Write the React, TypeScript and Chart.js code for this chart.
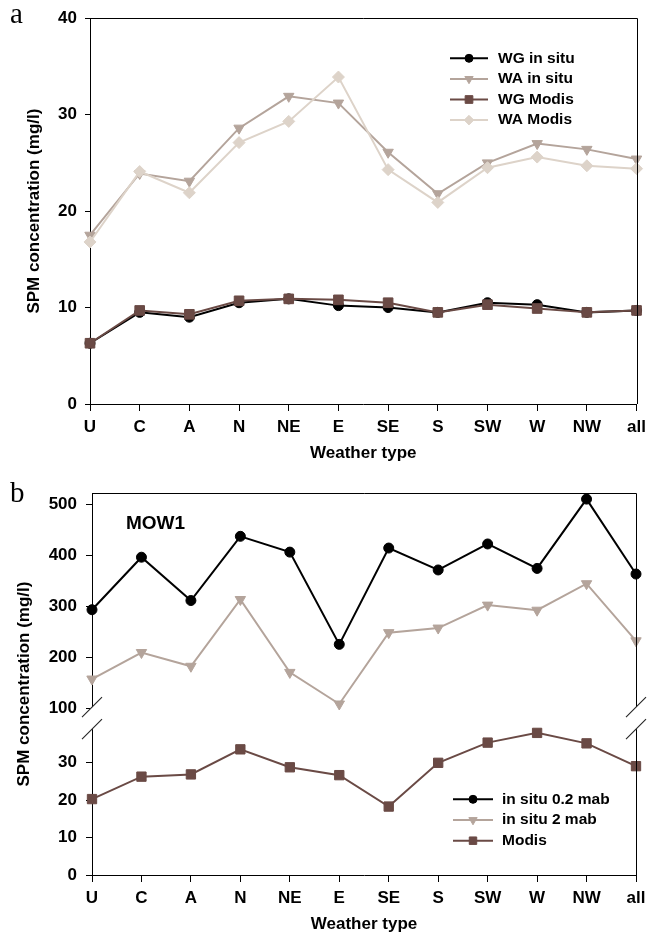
import React, { useEffect, useRef } from 'react';
import { Chart, registerables, LinearScale } from 'chart.js';
import { drawPoint } from 'chart.js/helpers';

// ---------------- DATA ----------------
const CATEGORIES = ['U', 'C', 'A', 'N', 'NE', 'E', 'SE', 'S', 'SW', 'W', 'NW', 'all'];

// Panel a
const WG_IN_SITU = [6.3, 9.5, 9.0, 10.5, 10.9, 10.2, 10.0, 9.5, 10.5, 10.3, 9.5, 9.7];
const WA_IN_SITU = [17.5, 23.9, 23.1, 28.6, 31.9, 31.2, 26.1, 21.8, 25.0, 27.0, 26.4, 25.4];
const WG_MODIS = [6.3, 9.7, 9.3, 10.7, 10.9, 10.8, 10.5, 9.5, 10.3, 9.9, 9.5, 9.7];
const WA_MODIS = [16.8, 24.1, 21.9, 27.1, 29.3, 33.9, 24.3, 20.9, 24.5, 25.6, 24.7, 24.4];
const A_Y_MIN = 0;
const A_Y_MAX = 40;
const A_Y_STEP = 10;

// Panel b (MOW1)
const IN_SITU_02_MAB = [293, 396, 311, 437, 406, 225, 414, 371, 422, 374, 510, 363];
const IN_SITU_2_MAB = [157, 209, 182, 313, 170, 108, 248, 257, 302, 292, 344, 232];
const MODIS_B = [20.3, 26.3, 26.9, 33.6, 28.8, 26.7, 18.3, 30.0, 35.4, 38.0, 35.2, 29.1];
const B_Y_TICKS = [0, 10, 20, 30, 100, 200, 300, 400, 500];
const B_Y_MIN = 0;
const B_Y_MAX = 522;
const BREAK_LOW = 39; // top of lower segment
const BREAK_HIGH = 100; // bottom of upper segment

// ---------------- STYLE ----------------
const FONT = '"Liberation Sans", Arial, Helvetica, sans-serif';
const C_BLACK = '#000000';
const C_TAUPE = '#b4a49b';
const C_BROWN = '#6a4a45';
const C_BEIGE = '#ddd3c9';

const LOW_FRAC = 0.3818; // decimal position of BREAK_LOW
const HIGH_FRAC = 0.437; // decimal position of BREAK_HIGH

class BrokenLinearScale extends LinearScale {
  static id = 'brokenLinear';
  static defaults = {};
  buildTicks() {
    return B_Y_TICKS.map((v) => ({ value: v }));
  }
  toDecimal(v: number) {
    const min = this.min;
    const max = this.max;
    if (v <= BREAK_LOW) return ((v - min) / (BREAK_LOW - min)) * LOW_FRAC;
    if (v >= BREAK_HIGH) return HIGH_FRAC + ((v - BREAK_HIGH) / (max - BREAK_HIGH)) * (1 - HIGH_FRAC);
    return LOW_FRAC + ((v - BREAK_LOW) / (BREAK_HIGH - BREAK_LOW)) * (HIGH_FRAC - LOW_FRAC);
  }
  getPixelForValue(v: number) {
    return this.getPixelForDecimal(this.toDecimal(v));
  }
  getValueForPixel(p: number) {
    const d = this.getDecimalForPixel(p);
    if (d <= LOW_FRAC) return this.min + (d / LOW_FRAC) * (BREAK_LOW - this.min);
    if (d >= HIGH_FRAC) return BREAK_HIGH + ((d - HIGH_FRAC) / (1 - HIGH_FRAC)) * (this.max - BREAK_HIGH);
    return BREAK_LOW + ((d - LOW_FRAC) / (HIGH_FRAC - LOW_FRAC)) * (BREAK_HIGH - BREAK_LOW);
  }
}

Chart.register(...registerables, BrokenLinearScale as any);
Chart.defaults.color = '#000';
Chart.defaults.font.family = FONT;

function ds(label: string, data: number[], color: string, pointStyle: string, radius: number, rotation: number, order: number) {
  return {
    label,
    data,
    borderColor: color,
    backgroundColor: color,
    pointBackgroundColor: color,
    pointBorderColor: color,
    pointBorderWidth: 1,
    borderWidth: 2,
    pointStyle,
    pointRadius: radius,
    pointRotation: rotation,
    tension: 0,
    order,
    clip: false as any,
  };
}

function legendPlugin(id: string, x0: number, x1: number, textX: number, y0: number, dy: number, fontSize: number) {
  return {
    id,
    afterDraw(chart: any) {
      const ctx = chart.ctx as CanvasRenderingContext2D;
      ctx.save();
      chart.data.datasets.forEach((d: any, i: number) => {
        const y = y0 + i * dy;
        ctx.strokeStyle = d.borderColor;
        ctx.lineWidth = d.borderWidth;
        ctx.beginPath();
        ctx.moveTo(x0, y);
        ctx.lineTo(x1, y);
        ctx.stroke();
        ctx.fillStyle = d.pointBackgroundColor;
        ctx.strokeStyle = d.pointBorderColor;
        ctx.lineWidth = 1;
        drawPoint(ctx, { pointStyle: d.pointStyle, rotation: d.pointRotation || 0, radius: d.pointRadius * 0.8, borderWidth: 1 } as any, (x0 + x1) / 2, y);
        ctx.fillStyle = '#000';
        ctx.font = `bold ${fontSize}px ${FONT}`;
        ctx.textBaseline = 'middle';
        ctx.textAlign = 'left';
        ctx.fillText(d.label, textX, y);
      });
      ctx.restore();
    },
  };
}

function textPlugin(id: string, items: { text: string; x: number; y: number; font: string }[]) {
  return {
    id,
    afterDraw(chart: any) {
      const ctx = chart.ctx as CanvasRenderingContext2D;
      ctx.save();
      ctx.fillStyle = '#000';
      ctx.textAlign = 'left';
      ctx.textBaseline = 'alphabetic';
      items.forEach((it) => {
        ctx.font = it.font;
        ctx.fillText(it.text, it.x, it.y);
      });
      ctx.restore();
    },
  };
}

function framePlugin(id: string, withBreak: boolean) {
  return {
    id,
    afterDraw(chart: any) {
      const ctx = chart.ctx as CanvasRenderingContext2D;
      const { left, right, top, bottom } = chart.chartArea;
      ctx.save();
      ctx.strokeStyle = '#000';
      ctx.lineWidth = 1;
      ctx.beginPath();
      ctx.moveTo(Math.round(left), Math.round(top) + 0.5);
      ctx.lineTo(Math.round(right) + 0.5, Math.round(top) + 0.5);
      ctx.lineTo(Math.round(right) + 0.5, Math.round(bottom));
      ctx.stroke();
      if (withBreak) {
        const ys = chart.scales.y;
        const pHi = ys.getPixelForValue(BREAK_HIGH) - 1;
        const pLo = ys.getPixelForValue(BREAK_LOW);
        ctx.fillStyle = '#fff';
        [left, right].forEach((x: number) => {
          ctx.fillRect(x - 2, pHi, 4, pLo - pHi);
        });
        ctx.strokeStyle = '#222';
        ctx.lineWidth = 1.1;
        [left, right].forEach((x: number) => {
          [pHi, pLo].forEach((c: number) => {
            ctx.beginPath();
            ctx.moveTo(x - 10, c + 10);
            ctx.lineTo(x + 10, c - 10);
            ctx.stroke();
          });
        });
      }
      ctx.restore();
    },
  };
}

const tickFont = { family: FONT, size: 17, weight: 'bold' as const };
const titleFont = { family: FONT, size: 17, weight: 'bold' as const };

function configA(): any {
  return {
    type: 'line',
    data: {
      labels: CATEGORIES,
      datasets: [
        ds('WG in situ', WG_IN_SITU, C_BLACK, 'circle', 5, 0, 2),
        ds('WA in situ', WA_IN_SITU, C_TAUPE, 'triangle', 6, 180, 4),
        ds('WG Modis', WG_MODIS, C_BROWN, 'rect', 6.8, 0, 1),
        ds('WA Modis', WA_MODIS, C_BEIGE, 'rectRot', 6, 0, 3),
      ],
    },
    options: {
      responsive: false,
      animation: false,
      devicePixelRatio: 1,
      layout: { padding: { left: 0, top: 17, right: 9, bottom: 0 } },
      plugins: { legend: { display: false }, tooltip: { enabled: false } },
      scales: {
        x: {
          type: 'category',
          offset: false,
          grid: { drawOnChartArea: false, drawTicks: true, tickLength: 7, color: '#000' },
          border: { color: '#000', width: 1 },
          ticks: { font: tickFont, color: '#000', padding: 6, autoSkip: false, maxRotation: 0 },
          title: { display: true, text: 'Weather type', font: titleFont, color: '#000', padding: { top: 0, bottom: 1 } },
          afterFit: (s: any) => {
            s.height = 61;
          },
        },
        y: {
          min: A_Y_MIN,
          max: A_Y_MAX,
          ticks: { stepSize: A_Y_STEP, font: tickFont, color: '#000', padding: 8 },
          grid: { drawOnChartArea: false, drawTicks: true, tickLength: 5, color: '#000' },
          border: { color: '#000', width: 1 },
          title: { display: true, text: 'SPM concentration (mg/l)', font: titleFont, color: '#000', padding: { top: 24, bottom: 0 } },
          afterFit: (s: any) => {
            s.width = 90;
          },
        },
      },
    },
    plugins: [
      framePlugin('frameA', false),
      legendPlugin('legendA', 450, 488, 498, 58.3, 20.6, 15.5),
      textPlugin('textA', [{ text: 'a', x: 10, y: 23, font: `29px "Liberation Serif", "Times New Roman", serif` }]),
    ],
  };
}

function configB(): any {
  return {
    type: 'line',
    data: {
      labels: CATEGORIES,
      datasets: [
        ds('in situ 0.2 mab', IN_SITU_02_MAB, C_BLACK, 'circle', 5, 0, 1),
        ds('in situ 2 mab', IN_SITU_2_MAB, C_TAUPE, 'triangle', 6, 180, 2),
        ds('Modis', MODIS_B, C_BROWN, 'rect', 6.6, 0, 3),
      ],
    },
    options: {
      responsive: false,
      animation: false,
      devicePixelRatio: 1,
      layout: { padding: { left: 0, top: 28, right: 16, bottom: 0 } },
      plugins: { legend: { display: false }, tooltip: { enabled: false } },
      scales: {
        x: {
          type: 'category',
          offset: false,
          grid: { drawOnChartArea: false, drawTicks: true, tickLength: 7, color: '#000' },
          border: { color: '#000', width: 1 },
          ticks: { font: tickFont, color: '#000', padding: 6, autoSkip: false, maxRotation: 0 },
          title: { display: true, text: 'Weather type', font: titleFont, color: '#000', padding: { top: 0, bottom: 0 } },
          afterFit: (s: any) => {
            s.height = 60;
          },
        },
        y: {
          type: 'brokenLinear',
          min: B_Y_MIN,
          max: B_Y_MAX,
          ticks: { font: tickFont, color: '#000', padding: 9, callback: (v: any) => String(v) },
          grid: { drawOnChartArea: false, drawTicks: true, tickLength: 6, color: '#000' },
          border: { color: '#000', width: 1 },
          title: { display: true, text: 'SPM concentration (mg/l)', font: titleFont, color: '#000', padding: { top: 14, bottom: 0 } },
          afterFit: (s: any) => {
            s.width = 92;
          },
        },
      },
    },
    plugins: [
      framePlugin('frameB', true),
      legendPlugin('legendB', 453, 493, 502, 334.3, 20.7, 15.5),
      textPlugin('textB', [
        { text: 'b', x: 10, y: 36.5, font: `29px "Liberation Serif", "Times New Roman", serif` },
        { text: 'MOW1', x: 126, y: 64, font: `bold 19px ${FONT}` },
      ]),
    ],
  };
}

function ChartCanvas({ make, top, height }: { make: () => any; top: number; height: number }) {
  const ref = useRef<HTMLCanvasElement>(null);
  useEffect(() => {
    const chart = new Chart(ref.current as HTMLCanvasElement, make());
    return () => chart.destroy();
  }, []);
  return (
    <canvas
      ref={ref}
      width={652}
      height={height}
      style={{ position: 'absolute', left: 0, top, width: 652, height, display: 'block' }}
    />
  );
}

export default function App() {
  return (
    <div style={{ position: 'absolute', left: 0, top: 0, width: 652, height: 935, background: '#fff' }}>
      <ChartCanvas make={configA} top={0} height={465} />
      <ChartCanvas make={configB} top={465} height={470} />
    </div>
  );
}
